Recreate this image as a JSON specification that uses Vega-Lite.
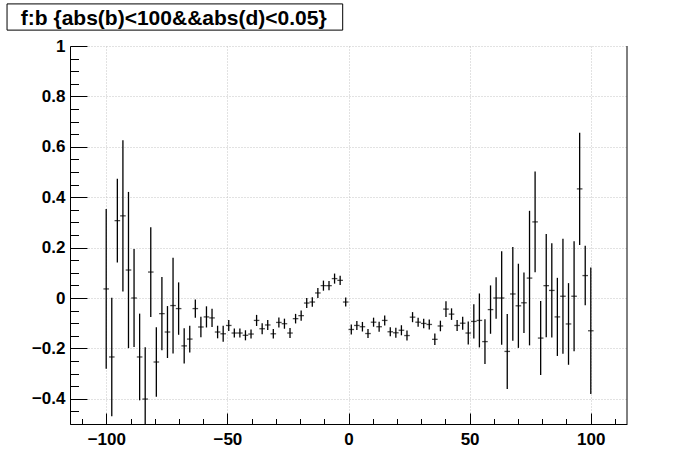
{
  "$schema": "https://vega.github.io/schema/vega-lite/v6.json",
  "width": 557,
  "height": 378,
  "autosize": {"type": "none"},
  "padding": {"left": 70, "top": 46, "right": 69, "bottom": 48},
  "background": "white",
  "config": {
    "view": {"stroke": null},
    "axis": {"domainColor": "black", "domainWidth": 1, "tickColor": "black", "tickWidth": 1, "gridColor": "#c4c4c4", "gridDash": [1, 2], "gridWidth": 1, "labelFont": "Liberation Sans", "labelFontWeight": "bold", "labelFontSize": 17, "labelColor": "black", "title": null}
  },
  "resolve": {"axis": {"x": "independent", "y": "independent"}},
  "layer": [
    {
      "data": {"values": [
        {"x": -100.05, "y": 0.036, "e": 0.317},
        {"x": -97.75, "y": -0.234, "e": 0.235},
        {"x": -95.45, "y": 0.307, "e": 0.166},
        {"x": -93.15, "y": 0.326, "e": 0.30},
        {"x": -90.85, "y": 0.111, "e": 0.31},
        {"x": -88.55, "y": 0.0, "e": 0.194},
        {"x": -86.25, "y": -0.234, "e": 0.172},
        {"x": -83.95, "y": -0.401, "e": 0.206},
        {"x": -81.65, "y": 0.103, "e": 0.178},
        {"x": -79.35, "y": -0.254, "e": 0.138},
        {"x": -77.05, "y": -0.062, "e": 0.145},
        {"x": -74.75, "y": -0.135, "e": 0.103},
        {"x": -72.45, "y": -0.030, "e": 0.19},
        {"x": -70.15, "y": -0.042, "e": 0.104},
        {"x": -67.85, "y": -0.190, "e": 0.07},
        {"x": -65.55, "y": -0.163, "e": 0.053},
        {"x": -63.25, "y": -0.042, "e": 0.036},
        {"x": -60.95, "y": -0.115, "e": 0.041},
        {"x": -58.65, "y": -0.075, "e": 0.042},
        {"x": -56.35, "y": -0.079, "e": 0.036},
        {"x": -54.05, "y": -0.135, "e": 0.025},
        {"x": -51.75, "y": -0.142, "e": 0.032},
        {"x": -49.45, "y": -0.109, "e": 0.022},
        {"x": -47.15, "y": -0.139, "e": 0.018},
        {"x": -44.85, "y": -0.139, "e": 0.018},
        {"x": -42.55, "y": -0.148, "e": 0.02},
        {"x": -40.25, "y": -0.143, "e": 0.018},
        {"x": -37.95, "y": -0.089, "e": 0.022},
        {"x": -35.65, "y": -0.122, "e": 0.022},
        {"x": -33.35, "y": -0.107, "e": 0.02},
        {"x": -31.05, "y": -0.142, "e": 0.019},
        {"x": -28.75, "y": -0.097, "e": 0.02},
        {"x": -26.45, "y": -0.102, "e": 0.02},
        {"x": -24.15, "y": -0.139, "e": 0.02},
        {"x": -21.85, "y": -0.082, "e": 0.019},
        {"x": -19.55, "y": -0.070, "e": 0.02},
        {"x": -17.25, "y": -0.020, "e": 0.02},
        {"x": -14.95, "y": -0.016, "e": 0.019},
        {"x": -12.65, "y": 0.020, "e": 0.02},
        {"x": -10.35, "y": 0.049, "e": 0.02},
        {"x": -8.05, "y": 0.049, "e": 0.018},
        {"x": -5.75, "y": 0.077, "e": 0.02},
        {"x": -3.45, "y": 0.070, "e": 0.018},
        {"x": -1.15, "y": -0.016, "e": 0.018},
        {"x": 1.15, "y": -0.125, "e": 0.02},
        {"x": 3.45, "y": -0.109, "e": 0.018},
        {"x": 5.75, "y": -0.114, "e": 0.019},
        {"x": 8.05, "y": -0.141, "e": 0.018},
        {"x": 10.35, "y": -0.096, "e": 0.018},
        {"x": 12.65, "y": -0.114, "e": 0.02},
        {"x": 14.95, "y": -0.089, "e": 0.02},
        {"x": 17.25, "y": -0.134, "e": 0.018},
        {"x": 19.55, "y": -0.138, "e": 0.02},
        {"x": 21.85, "y": -0.128, "e": 0.02},
        {"x": 24.15, "y": -0.149, "e": 0.02},
        {"x": 26.45, "y": -0.076, "e": 0.02},
        {"x": 28.75, "y": -0.096, "e": 0.018},
        {"x": 31.05, "y": -0.101, "e": 0.019},
        {"x": 33.35, "y": -0.105, "e": 0.02},
        {"x": 35.65, "y": -0.164, "e": 0.023},
        {"x": 37.95, "y": -0.111, "e": 0.021},
        {"x": 40.25, "y": -0.044, "e": 0.031},
        {"x": 42.55, "y": -0.064, "e": 0.023},
        {"x": 44.85, "y": -0.109, "e": 0.022},
        {"x": 47.15, "y": -0.100, "e": 0.026},
        {"x": 49.45, "y": -0.139, "e": 0.046},
        {"x": 51.75, "y": -0.093, "e": 0.068},
        {"x": 54.05, "y": -0.089, "e": 0.107},
        {"x": 56.35, "y": -0.173, "e": 0.089},
        {"x": 58.65, "y": -0.046, "e": 0.096},
        {"x": 60.95, "y": 0.0, "e": 0.082},
        {"x": 63.25, "y": 0.0, "e": 0.186},
        {"x": 65.55, "y": -0.212, "e": 0.149},
        {"x": 67.85, "y": 0.016, "e": 0.186},
        {"x": 70.15, "y": -0.031, "e": 0.167},
        {"x": 72.45, "y": -0.019, "e": 0.12},
        {"x": 74.75, "y": 0.079, "e": 0.267},
        {"x": 77.05, "y": 0.302, "e": 0.2},
        {"x": 79.35, "y": -0.159, "e": 0.147},
        {"x": 81.65, "y": 0.049, "e": 0.205},
        {"x": 83.95, "y": 0.030, "e": 0.187},
        {"x": 86.25, "y": -0.075, "e": 0.155},
        {"x": 88.55, "y": 0.007, "e": 0.228},
        {"x": 90.85, "y": -0.103, "e": 0.162},
        {"x": 93.15, "y": 0.007, "e": 0.218},
        {"x": 95.45, "y": 0.433, "e": 0.223},
        {"x": 97.75, "y": 0.089, "e": 0.118},
        {"x": 100.05, "y": -0.130, "e": 0.251}
      ]},
      "encoding": {
        "x": {"field": "x", "type": "quantitative",
          "scale": {"domain": [-115, 115], "nice": false, "zero": false},
          "axis": {
            "orient": "bottom",
            "values": [-110, -100, -90, -80, -70, -60, -50, -40, -30, -20, -10, 0, 10, 20, 30, 40, 50, 60, 70, 80, 90, 100, 110],
            "tickSize": {"condition": {"test": "datum.value % 50 === 0", "value": -11}, "value": -5.5},
            "gridOpacity": {"condition": {"test": "datum.value % 50 === 0", "value": 1}, "value": 0},
            "labelExpr": "datum.value % 50 === 0 ? format(datum.value, '~g') : ''",
            "labelPadding": 18,
            "labelOverlap": false,
            "grid": true,
            "title": null
          }},
        "y": {"field": "y", "type": "quantitative",
          "scale": {"domain": [-0.5, 1], "nice": false, "zero": false},
          "axis": {
            "orient": "left",
            "values": [-0.5, -0.45, -0.4, -0.35, -0.3, -0.25, -0.2, -0.15, -0.1, -0.05, 0, 0.05, 0.1, 0.15, 0.2, 0.25, 0.3, 0.35, 0.4, 0.45, 0.5, 0.55, 0.6, 0.65, 0.7, 0.75, 0.8, 0.85, 0.9, 0.95, 1],
            "tickSize": {"condition": {"test": "abs(datum.value*5 - round(datum.value*5)) < 0.000001", "value": -17}, "value": -8.5},
            "gridOpacity": {"condition": {"test": "abs(datum.value*5 - round(datum.value*5)) < 0.000001", "value": 1}, "value": 0},
            "labelExpr": "abs(datum.value*5 - round(datum.value*5)) < 0.000001 ? format(datum.value, '~g') : ''",
            "labelPadding": 22,
            "labelOverlap": false,
            "grid": true,
            "title": null
          }}
      },
      "layer": [
        {
          "mark": {"type": "errorbar", "color": "black", "thickness": 1.3, "clip": true},
          "encoding": {"yError": {"field": "e"}}
        },
        {
          "mark": {"type": "tick", "orient": "horizontal", "color": "black", "thickness": 1.3, "size": 5.6, "clip": true}
        }
      ]
    },
    {
      "data": {"values": [{}]},
      "mark": {"type": "rule", "color": "black", "strokeWidth": 1},
      "encoding": {"x": {"datum": 115, "axis": null}}
    },
    {
      "data": {"values": [{}]},
      "mark": {"type": "rect", "fill": "transparent", "stroke": "black", "strokeWidth": 1, "clip": false},
      "encoding": {"x": {"datum": -141, "axis": null}, "x2": {"datum": -2.4}, "y": {"datum": 1.167, "axis": null}, "y2": {"datum": 1.063}}
    },
    {
      "data": {"values": [{"t": "f:b {abs(b)<100&&abs(d)<0.05}"}]},
      "mark": {"type": "text", "font": "Liberation Sans", "fontSize": 21, "fontWeight": "bold", "color": "black", "align": "left", "baseline": "alphabetic", "clip": false},
      "encoding": {"x": {"datum": -135.3, "axis": null}, "y": {"datum": 1.083, "axis": null}, "text": {"field": "t"}}
    }
  ]
}
